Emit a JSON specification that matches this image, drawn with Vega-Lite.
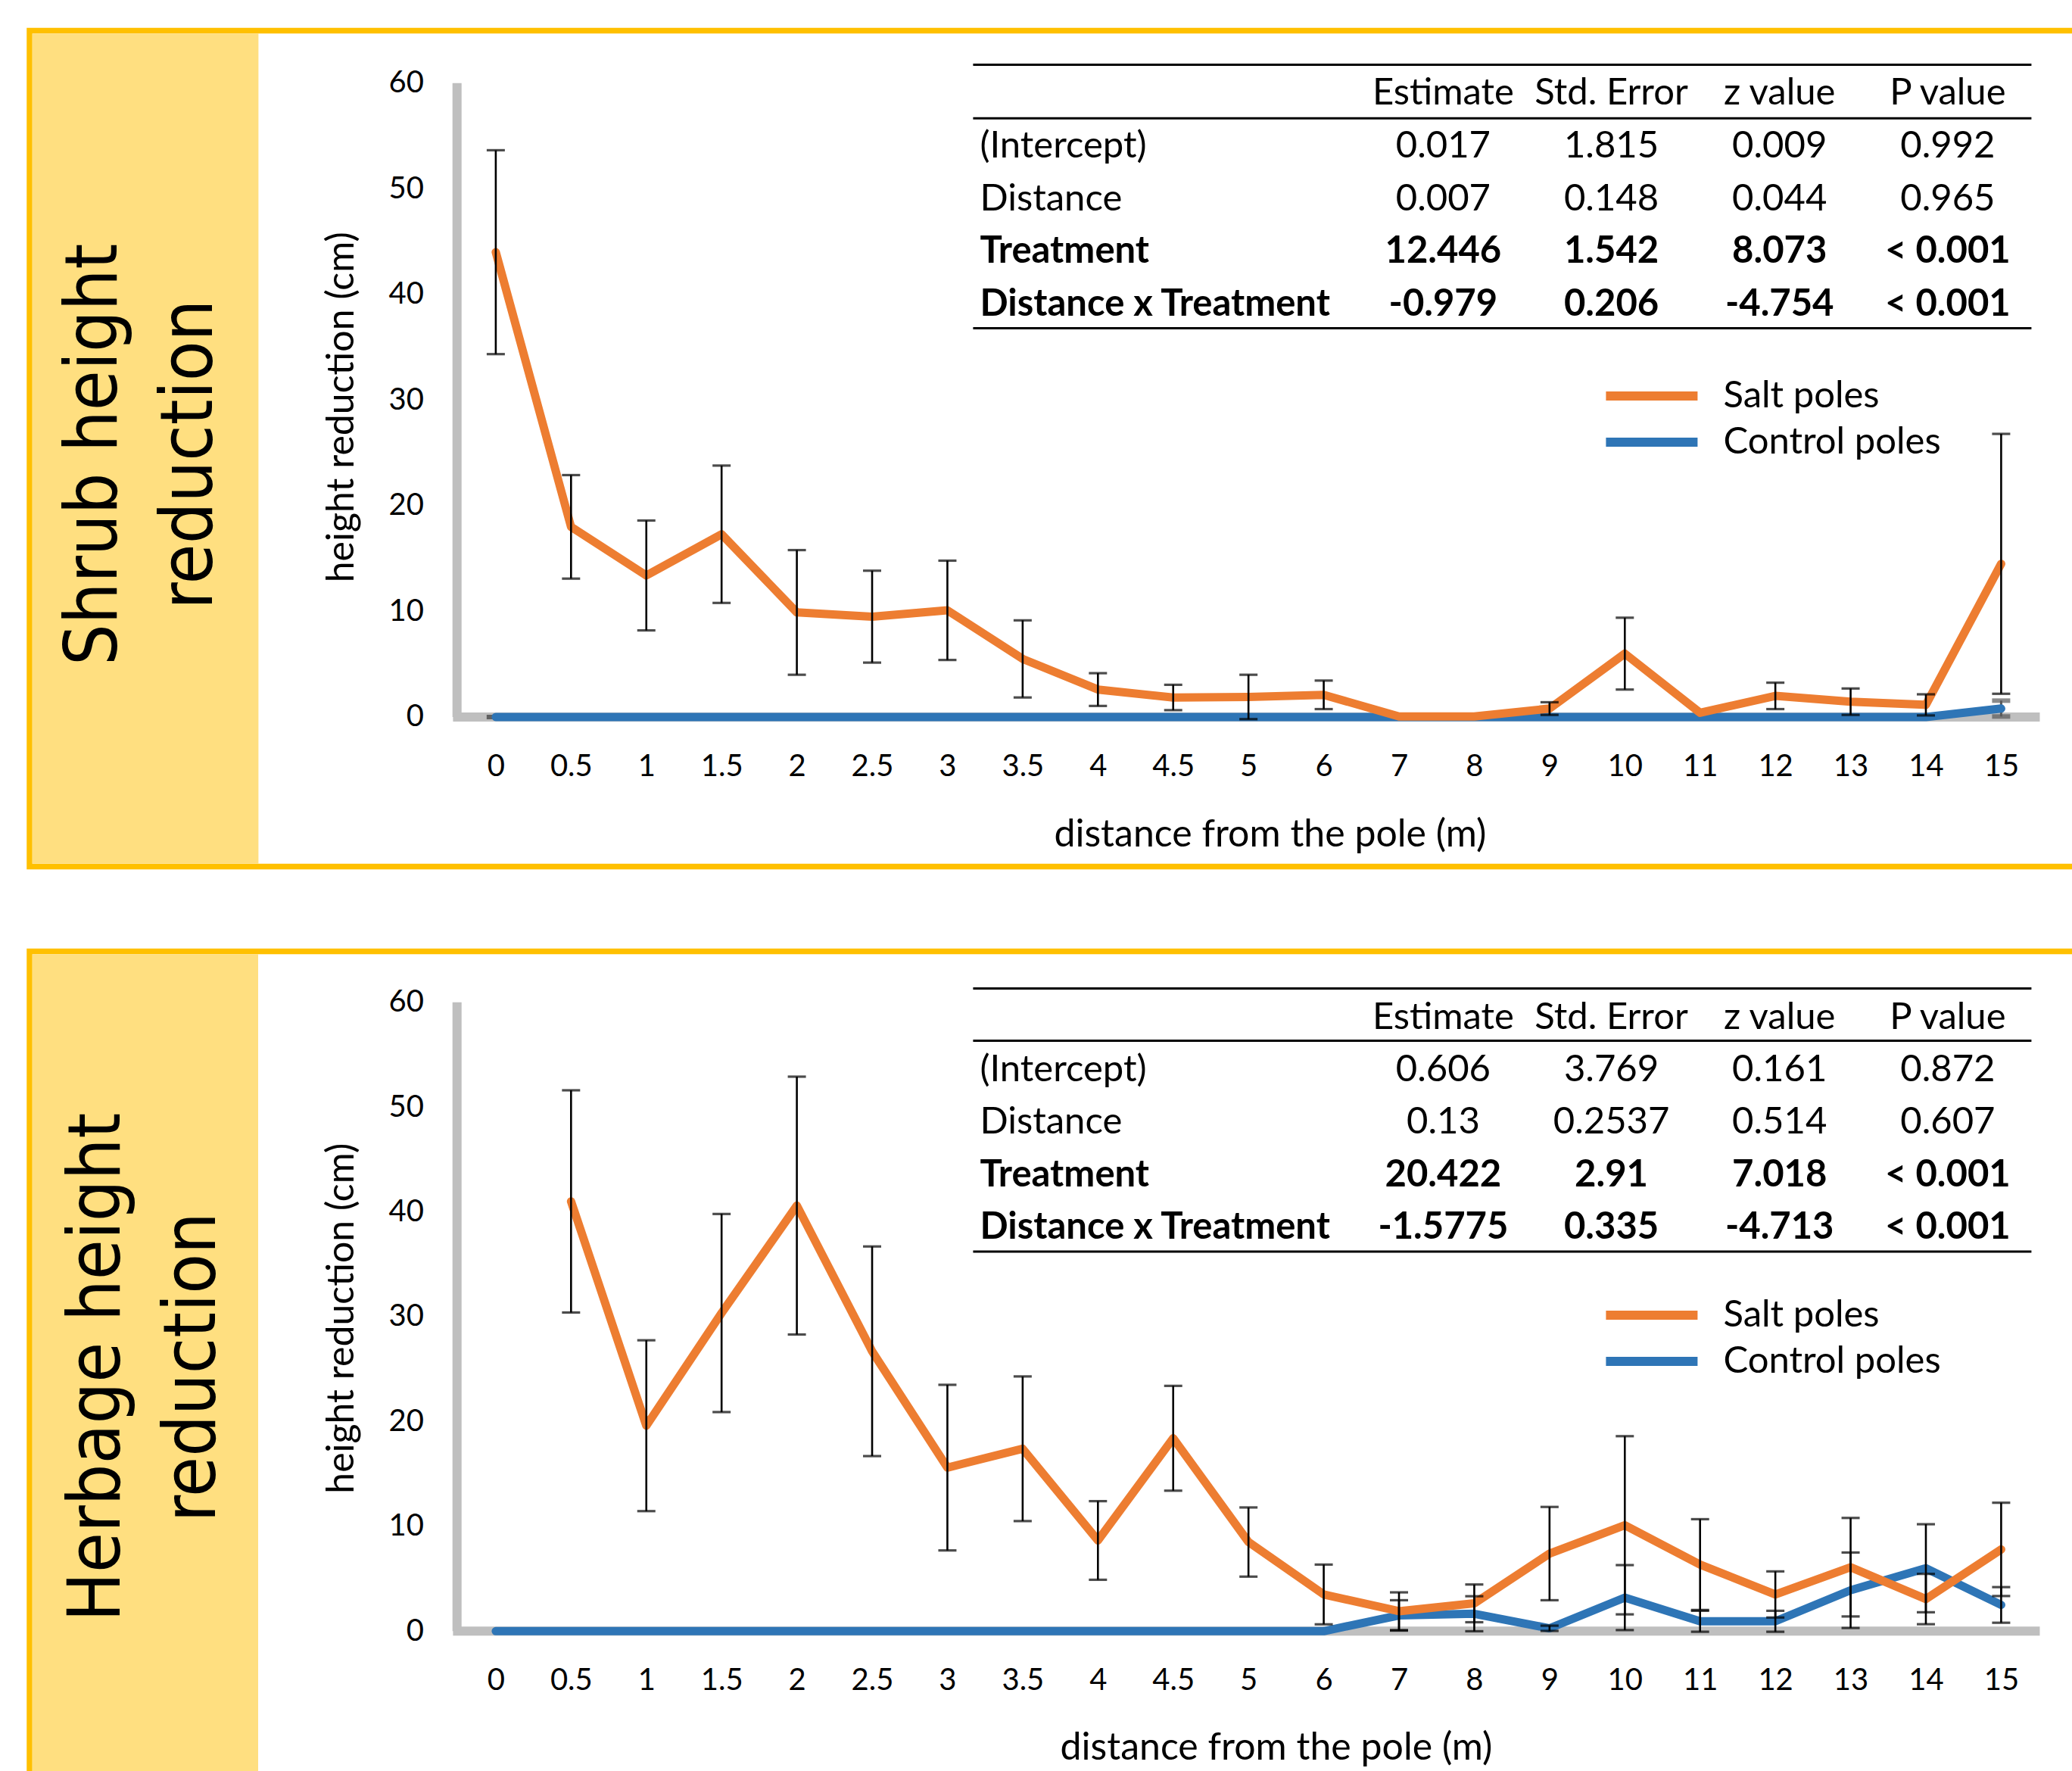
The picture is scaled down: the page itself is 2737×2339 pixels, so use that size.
{
  "$schema": "https://vega.github.io/schema/vega-lite/v6.json",
  "background": "white",
  "padding": {"left": 35, "top": 36.5, "right": 0, "bottom": 0},
  "config": {"view": {"stroke": "#FFC000", "strokeWidth": 7.5}},
  "spacing": 104,
  "resolve": {"scale": {"color": "independent", "x": "independent", "y": "independent"}, "legend": {"color": "independent"}},
  "datasets": {
    "shrub": [
      {"series": "Salt poles", "dist": 0, "mean": 44.0, "err": 9.65},
      {"series": "Salt poles", "dist": 0.5, "mean": 18.0, "err": 4.9},
      {"series": "Salt poles", "dist": 1, "mean": 13.4, "err": 5.2},
      {"series": "Salt poles", "dist": 1.5, "mean": 17.3, "err": 6.5},
      {"series": "Salt poles", "dist": 2, "mean": 9.9, "err": 5.9},
      {"series": "Salt poles", "dist": 2.5, "mean": 9.5, "err": 4.35},
      {"series": "Salt poles", "dist": 3, "mean": 10.1, "err": 4.7},
      {"series": "Salt poles", "dist": 3.5, "mean": 5.5, "err": 3.65},
      {"series": "Salt poles", "dist": 4, "mean": 2.6, "err": 1.55},
      {"series": "Salt poles", "dist": 4.5, "mean": 1.85, "err": 1.2},
      {"series": "Salt poles", "dist": 5, "mean": 1.9, "err": 2.1},
      {"series": "Salt poles", "dist": 6, "mean": 2.1, "err": 1.35},
      {"series": "Salt poles", "dist": 7, "mean": 0.05, "err": null},
      {"series": "Salt poles", "dist": 8, "mean": 0.05, "err": null},
      {"series": "Salt poles", "dist": 9, "mean": 0.8, "err": 0.6},
      {"series": "Salt poles", "dist": 10, "mean": 6.0, "err": 3.4},
      {"series": "Salt poles", "dist": 11, "mean": 0.4, "err": null},
      {"series": "Salt poles", "dist": 12, "mean": 2.0, "err": 1.25},
      {"series": "Salt poles", "dist": 13, "mean": 1.45, "err": 1.25},
      {"series": "Salt poles", "dist": 14, "mean": 1.15, "err": 1.0},
      {"series": "Salt poles", "dist": 15, "mean": 14.5, "err": 12.3},
      {"series": "Control poles", "dist": 0, "mean": 0, "err": 0},
      {"series": "Control poles", "dist": 0.5, "mean": 0, "err": 0},
      {"series": "Control poles", "dist": 1, "mean": 0, "err": 0},
      {"series": "Control poles", "dist": 1.5, "mean": 0, "err": 0},
      {"series": "Control poles", "dist": 2, "mean": 0, "err": 0},
      {"series": "Control poles", "dist": 2.5, "mean": 0, "err": 0},
      {"series": "Control poles", "dist": 3, "mean": 0, "err": 0},
      {"series": "Control poles", "dist": 3.5, "mean": 0, "err": 0},
      {"series": "Control poles", "dist": 4, "mean": 0, "err": 0},
      {"series": "Control poles", "dist": 4.5, "mean": 0, "err": 0},
      {"series": "Control poles", "dist": 5, "mean": 0, "err": 0},
      {"series": "Control poles", "dist": 6, "mean": 0, "err": 0},
      {"series": "Control poles", "dist": 7, "mean": 0, "err": 0},
      {"series": "Control poles", "dist": 8, "mean": 0, "err": 0},
      {"series": "Control poles", "dist": 9, "mean": 0, "err": 0},
      {"series": "Control poles", "dist": 10, "mean": 0, "err": 0},
      {"series": "Control poles", "dist": 11, "mean": 0, "err": 0},
      {"series": "Control poles", "dist": 12, "mean": 0, "err": 0},
      {"series": "Control poles", "dist": 13, "mean": 0, "err": 0},
      {"series": "Control poles", "dist": 14, "mean": 0, "err": 0},
      {"series": "Control poles", "dist": 15, "mean": 0.8, "err": 0.75}
    ],
    "herbage": [
      {"series": "Salt poles", "dist": 0.5, "mean": 41.0, "err": 10.6},
      {"series": "Salt poles", "dist": 1, "mean": 19.6, "err": 8.15},
      {"series": "Salt poles", "dist": 1.5, "mean": 30.35, "err": 9.45},
      {"series": "Salt poles", "dist": 2, "mean": 40.6, "err": 12.3},
      {"series": "Salt poles", "dist": 2.5, "mean": 26.7, "err": 10.0},
      {"series": "Salt poles", "dist": 3, "mean": 15.6, "err": 7.9},
      {"series": "Salt poles", "dist": 3.5, "mean": 17.4, "err": 6.9},
      {"series": "Salt poles", "dist": 4, "mean": 8.65, "err": 3.75},
      {"series": "Salt poles", "dist": 4.5, "mean": 18.4, "err": 5.0},
      {"series": "Salt poles", "dist": 5, "mean": 8.5, "err": 3.3},
      {"series": "Salt poles", "dist": 6, "mean": 3.5, "err": 2.85},
      {"series": "Salt poles", "dist": 7, "mean": 1.9, "err": 1.8},
      {"series": "Salt poles", "dist": 8, "mean": 2.65, "err": 1.8},
      {"series": "Salt poles", "dist": 9, "mean": 7.4, "err": 4.45},
      {"series": "Salt poles", "dist": 10, "mean": 10.1, "err": 8.5},
      {"series": "Salt poles", "dist": 11, "mean": 6.35, "err": 4.33},
      {"series": "Salt poles", "dist": 12, "mean": 3.5, "err": 2.2},
      {"series": "Salt poles", "dist": 13, "mean": 6.1, "err": 4.7},
      {"series": "Salt poles", "dist": 14, "mean": 3.06, "err": 2.4},
      {"series": "Salt poles", "dist": 15, "mean": 7.8, "err": 4.45},
      {"series": "Control poles", "dist": 0, "mean": 0, "err": null},
      {"series": "Control poles", "dist": 0.5, "mean": 0, "err": null},
      {"series": "Control poles", "dist": 1, "mean": 0, "err": null},
      {"series": "Control poles", "dist": 1.5, "mean": 0, "err": null},
      {"series": "Control poles", "dist": 2, "mean": 0, "err": null},
      {"series": "Control poles", "dist": 2.5, "mean": 0, "err": null},
      {"series": "Control poles", "dist": 3, "mean": 0, "err": null},
      {"series": "Control poles", "dist": 3.5, "mean": 0, "err": null},
      {"series": "Control poles", "dist": 4, "mean": 0, "err": null},
      {"series": "Control poles", "dist": 4.5, "mean": 0, "err": null},
      {"series": "Control poles", "dist": 5, "mean": 0, "err": null},
      {"series": "Control poles", "dist": 6, "mean": 0, "err": null},
      {"series": "Control poles", "dist": 7, "mean": 1.5, "err": 1.45},
      {"series": "Control poles", "dist": 8, "mean": 1.66, "err": 1.67},
      {"series": "Control poles", "dist": 9, "mean": 0.27, "err": 0.25},
      {"series": "Control poles", "dist": 10, "mean": 3.2, "err": 3.1},
      {"series": "Control poles", "dist": 11, "mean": 0.94, "err": 1.0},
      {"series": "Control poles", "dist": 12, "mean": 0.94, "err": 1.0},
      {"series": "Control poles", "dist": 13, "mean": 3.9, "err": 3.6},
      {"series": "Control poles", "dist": 14, "mean": 6.0, "err": 4.2},
      {"series": "Control poles", "dist": 15, "mean": 2.5, "err": 1.7}
    ],
    "shrubTable": [
      {"row": "header", "col": "Estimate", "text": "Estimate"},
      {"row": "header", "col": "Std. Error", "text": "Std. Error"},
      {"row": "header", "col": "z value", "text": "z value"},
      {"row": "header", "col": "P value", "text": "P value"},
      {"row": "(Intercept)", "col": "label", "text": "(Intercept)"},
      {"row": "(Intercept)", "col": "Estimate", "text": "0.017"},
      {"row": "(Intercept)", "col": "Std. Error", "text": "1.815"},
      {"row": "(Intercept)", "col": "z value", "text": "0.009"},
      {"row": "(Intercept)", "col": "P value", "text": "0.992"},
      {"row": "Distance", "col": "label", "text": "Distance"},
      {"row": "Distance", "col": "Estimate", "text": "0.007"},
      {"row": "Distance", "col": "Std. Error", "text": "0.148"},
      {"row": "Distance", "col": "z value", "text": "0.044"},
      {"row": "Distance", "col": "P value", "text": "0.965"},
      {"row": "Treatment", "col": "label", "text": "Treatment"},
      {"row": "Treatment", "col": "Estimate", "text": "12.446"},
      {"row": "Treatment", "col": "Std. Error", "text": "1.542"},
      {"row": "Treatment", "col": "z value", "text": "8.073"},
      {"row": "Treatment", "col": "P value", "text": "< 0.001"},
      {"row": "Distance x Treatment", "col": "label", "text": "Distance x Treatment"},
      {"row": "Distance x Treatment", "col": "Estimate", "text": "-0.979"},
      {"row": "Distance x Treatment", "col": "Std. Error", "text": "0.206"},
      {"row": "Distance x Treatment", "col": "z value", "text": "-4.754"},
      {"row": "Distance x Treatment", "col": "P value", "text": "< 0.001"}
    ],
    "herbTable": [
      {"row": "header", "col": "Estimate", "text": "Estimate"},
      {"row": "header", "col": "Std. Error", "text": "Std. Error"},
      {"row": "header", "col": "z value", "text": "z value"},
      {"row": "header", "col": "P value", "text": "P value"},
      {"row": "(Intercept)", "col": "label", "text": "(Intercept)"},
      {"row": "(Intercept)", "col": "Estimate", "text": "0.606"},
      {"row": "(Intercept)", "col": "Std. Error", "text": "3.769"},
      {"row": "(Intercept)", "col": "z value", "text": "0.161"},
      {"row": "(Intercept)", "col": "P value", "text": "0.872"},
      {"row": "Distance", "col": "label", "text": "Distance"},
      {"row": "Distance", "col": "Estimate", "text": "0.13"},
      {"row": "Distance", "col": "Std. Error", "text": "0.2537"},
      {"row": "Distance", "col": "z value", "text": "0.514"},
      {"row": "Distance", "col": "P value", "text": "0.607"},
      {"row": "Treatment", "col": "label", "text": "Treatment"},
      {"row": "Treatment", "col": "Estimate", "text": "20.422"},
      {"row": "Treatment", "col": "Std. Error", "text": "2.91"},
      {"row": "Treatment", "col": "z value", "text": "7.018"},
      {"row": "Treatment", "col": "P value", "text": "< 0.001"},
      {"row": "Distance x Treatment", "col": "label", "text": "Distance x Treatment"},
      {"row": "Distance x Treatment", "col": "Estimate", "text": "-1.5775"},
      {"row": "Distance x Treatment", "col": "Std. Error", "text": "0.335"},
      {"row": "Distance x Treatment", "col": "z value", "text": "-4.713"},
      {"row": "Distance x Treatment", "col": "P value", "text": "< 0.001"}
    ]
  },
  "vconcat": [
    {
      "width": 2710,
      "height": 1104,
      "resolve": {"scale": {"x": "independent", "y": "independent"}, "axis": {"x": "independent", "y": "independent"}},
      "layer": [
        {
          "data": {"values": [{}]},
          "layer": [
            {"mark": {"type": "rect", "fill": "#FFDF80"},
             "encoding": {
               "x": {"datum": -6.157, "type": "quantitative", "scale": {"domain": [-6.1943, 21.0606], "nice": false, "zero": false}, "axis": null},
               "x2": {"datum": -3.153},
               "y": {"datum": -13.887, "type": "quantitative", "scale": {"domain": [-14.156, 64.967], "nice": false, "zero": false}, "axis": null},
               "y2": {"datum": 64.698}}},
            {"mark": {"type": "text", "text": ["Shrub height", "reduction"], "angle": 270, "align": "center", "baseline": "alphabetic", "font": "DejaVu Sans Condensed, DejaVu Sans", "fontSize": 96, "lineHeight": 126, "color": "#000000"},
             "encoding": {
               "x": {"datum": -5.034, "type": "quantitative", "scale": {"domain": [-6.1943, 21.0606], "nice": false, "zero": false}, "axis": null},
               "y": {"datum": 24.847, "type": "quantitative", "scale": {"domain": [-14.156, 64.967], "nice": false, "zero": false}, "axis": null}}},
            {"mark": {"type": "rule", "color": "#BFBFBF", "strokeWidth": 12},
             "encoding": {
               "x": {"datum": -0.5149, "type": "quantitative", "scale": {"domain": [-6.1943, 21.0606], "nice": false, "zero": false}, "axis": null},
               "y": {"datum": 0, "type": "quantitative", "scale": {"domain": [-14.156, 64.967], "nice": false, "zero": false}, "axis": null},
               "y2": {"datum": 60}}},
            {"mark": {"type": "rule", "color": "#BFBFBF", "strokeWidth": 12},
             "encoding": {
               "x": {"datum": -0.5682, "type": "quantitative", "scale": {"domain": [-6.1943, 21.0606], "nice": false, "zero": false}, "axis": null},
               "x2": {"datum": 20.512},
               "y": {"datum": 0, "type": "quantitative", "scale": {"domain": [-14.156, 64.967], "nice": false, "zero": false}, "axis": null}}},
            {"mark": {"type": "rule", "color": "#000000", "strokeWidth": 3},
             "encoding": {
               "x": {"datum": 6.341, "type": "quantitative", "scale": {"domain": [-6.1943, 21.0606], "nice": false, "zero": false}, "axis": null},
               "x2": {"datum": 20.401},
               "y": {"datum": 61.735, "type": "quantitative", "scale": {"domain": [-14.156, 64.967], "nice": false, "zero": false}, "axis": null}}},
            {"mark": {"type": "rule", "color": "#000000", "strokeWidth": 3},
             "encoding": {
               "x": {"datum": 6.341, "type": "quantitative", "scale": {"domain": [-6.1943, 21.0606], "nice": false, "zero": false}, "axis": null},
               "x2": {"datum": 20.401},
               "y": {"datum": 56.675, "type": "quantitative", "scale": {"domain": [-14.156, 64.967], "nice": false, "zero": false}, "axis": null}}},
            {"mark": {"type": "rule", "color": "#000000", "strokeWidth": 3},
             "encoding": {
               "x": {"datum": 6.341, "type": "quantitative", "scale": {"domain": [-6.1943, 21.0606], "nice": false, "zero": false}, "axis": null},
               "x2": {"datum": 20.401},
               "y": {"datum": 36.808, "type": "quantitative", "scale": {"domain": [-14.156, 64.967], "nice": false, "zero": false}, "axis": null}}}
          ]
        },
        {
          "data": {"name": "shrubTable"},
          "transform": [{"filter": "datum.col != 'label' && datum.row != 'Treatment' && datum.row != 'Distance x Treatment'"}],
          "mark": {"type": "text", "font": "Lato", "fontSize": 49, "align": "center", "baseline": "middle", "color": "#000000"},
          "encoding": {
            "x": {"field": "col", "type": "nominal", "scale": {"type": "point", "domain": ["Estimate", "Std. Error", "z value", "P value"], "range": [1867.4, 2533.9], "padding": 0}, "axis": null},
            "y": {"field": "row", "type": "nominal", "scale": {"type": "point", "domain": ["header", "(Intercept)", "Distance", "Treatment", "Distance x Treatment"], "range": [82.8, 361.4], "padding": 0}, "axis": null},
            "text": {"field": "text"}
          }
        },
        {
          "data": {"name": "shrubTable"},
          "transform": [{"filter": "datum.col != 'label' && (datum.row == 'Treatment' || datum.row == 'Distance x Treatment')"}],
          "mark": {"type": "text", "font": "Lato", "fontSize": 49, "fontWeight": "bold", "align": "center", "baseline": "middle", "color": "#000000"},
          "encoding": {
            "x": {"field": "col", "type": "nominal", "scale": {"type": "point", "domain": ["Estimate", "Std. Error", "z value", "P value"], "range": [1867.4, 2533.9], "padding": 0}, "axis": null},
            "y": {"field": "row", "type": "nominal", "scale": {"type": "point", "domain": ["header", "(Intercept)", "Distance", "Treatment", "Distance x Treatment"], "range": [82.8, 361.4], "padding": 0}, "axis": null},
            "text": {"field": "text"}
          }
        },
        {
          "data": {"name": "shrubTable"},
          "transform": [{"filter": "datum.col == 'label' && datum.row != 'Treatment' && datum.row != 'Distance x Treatment'"}],
          "mark": {"type": "text", "font": "Lato", "fontSize": 49, "align": "left", "baseline": "middle", "color": "#000000"},
          "encoding": {
            "x": {"datum": 6.4316, "type": "quantitative", "scale": {"domain": [-6.1943, 21.0606], "nice": false, "zero": false}, "axis": null},
            "y": {"field": "row", "type": "nominal", "scale": {"type": "point", "domain": ["header", "(Intercept)", "Distance", "Treatment", "Distance x Treatment"], "range": [82.8, 361.4], "padding": 0}, "axis": null},
            "text": {"field": "text"}
          }
        },
        {
          "data": {"name": "shrubTable"},
          "transform": [{"filter": "datum.col == 'label' && (datum.row == 'Treatment' || datum.row == 'Distance x Treatment')"}],
          "mark": {"type": "text", "font": "Lato", "fontSize": 49, "fontWeight": "bold", "align": "left", "baseline": "middle", "color": "#000000"},
          "encoding": {
            "x": {"datum": 6.4316, "type": "quantitative", "scale": {"domain": [-6.1943, 21.0606], "nice": false, "zero": false}, "axis": null},
            "y": {"field": "row", "type": "nominal", "scale": {"type": "point", "domain": ["header", "(Intercept)", "Distance", "Treatment", "Distance x Treatment"], "range": [82.8, 361.4], "padding": 0}, "axis": null},
            "text": {"field": "text"}
          }
        },
        {
          "data": {"name": "shrub"},
          "layer": [
            {
              "transform": [{"filter": "datum.series == 'Control poles' && isValid(datum.err)"}],
              "mark": {"type": "errorbar", "color": "#595959", "ticks": {"size": 24, "thickness": 6}, "rule": {"strokeWidth": 3}},
              "encoding": {
                "x": {"field": "dist", "type": "ordinal", "title": "distance from the pole (m)", "scale": {"type": "point", "domain": [0, 0.5, 1, 1.5, 2, 2.5, 3, 3.5, 4, 4.5, 5, 6, 7, 8, 9, 10, 11, 12, 13, 14, 15], "range": [615.9, 2604.4], "padding": 0},
                  "axis": {"orient": "bottom", "domain": false, "ticks": false, "grid": false, "labelFont": "Lato", "labelFontSize": 40, "labelColor": "#000000", "labelPadding": 45.5, "labelBaseline": "top", "labelAngle": 0, "labelOverlap": false, "offset": -197.5, "title": "distance from the pole (m)", "titleFont": "Lato", "titleFontSize": 50, "titleFontWeight": "normal", "titleColor": "#000000", "titleX": 1638.4, "titleY": 155.3, "titleAlign": "center", "titleBaseline": "middle"}},
                "y": {"field": "mean", "type": "quantitative", "title": "height reduction (cm)", "scale": {"domain": [-14.156, 64.967], "nice": false, "zero": false},
                  "axis": {"orient": "left", "values": [0, 10, 20, 30, 40, 50, 60], "domain": false, "ticks": false, "grid": false, "labelFont": "Lato", "labelFontSize": 40, "labelColor": "#000000", "labelPadding": 44.3, "labelOverlap": false, "offset": -564.7, "title": "height reduction (cm)", "titleFont": "Lato", "titleFontSize": 50, "titleFontWeight": "normal", "titleColor": "#000000", "titleAngle": 270, "titleX": -152.3, "titleY": 496.8, "titleAlign": "center", "titleBaseline": "middle"}},
                "yError": {"field": "err"}
              }
            },
            {
              "transform": [{"filter": "datum.series == 'Control poles'"}],
              "mark": {"type": "line", "strokeWidth": 11, "strokeCap": "round", "strokeJoin": "round"},
              "encoding": {
                "x": {"field": "dist", "type": "ordinal", "title": "distance from the pole (m)", "scale": {"type": "point", "domain": [0, 0.5, 1, 1.5, 2, 2.5, 3, 3.5, 4, 4.5, 5, 6, 7, 8, 9, 10, 11, 12, 13, 14, 15], "range": [615.9, 2604.4], "padding": 0},
                  "axis": {"orient": "bottom", "domain": false, "ticks": false, "grid": false, "labelFont": "Lato", "labelFontSize": 40, "labelColor": "#000000", "labelPadding": 45.5, "labelBaseline": "top", "labelAngle": 0, "labelOverlap": false, "offset": -197.5, "title": "distance from the pole (m)", "titleFont": "Lato", "titleFontSize": 50, "titleFontWeight": "normal", "titleColor": "#000000", "titleX": 1638.4, "titleY": 155.3, "titleAlign": "center", "titleBaseline": "middle"}},
                "y": {"field": "mean", "type": "quantitative", "title": "height reduction (cm)", "scale": {"domain": [-14.156, 64.967], "nice": false, "zero": false},
                  "axis": {"orient": "left", "values": [0, 10, 20, 30, 40, 50, 60], "domain": false, "ticks": false, "grid": false, "labelFont": "Lato", "labelFontSize": 40, "labelColor": "#000000", "labelPadding": 44.3, "labelOverlap": false, "offset": -564.7, "title": "height reduction (cm)", "titleFont": "Lato", "titleFontSize": 50, "titleFontWeight": "normal", "titleColor": "#000000", "titleAngle": 270, "titleX": -152.3, "titleY": 496.8, "titleAlign": "center", "titleBaseline": "middle"}},
                "color": {"field": "series", "type": "nominal", "scale": {"domain": ["Salt poles", "Control poles"], "range": ["#ED7D31", "#2E75B6"]},
                  "legend": {"orient": "none", "legendX": 2076.4, "legendY": 452.2, "title": null, "symbolType": "stroke", "symbolSize": 14641, "symbolStrokeWidth": 12, "labelFont": "Lato", "labelFontSize": 49, "labelColor": "#000000", "labelOffset": 28, "labelLimit": 0, "clipHeight": 60.6, "rowPadding": 0, "padding": 0}}
              }
            },
            {
              "transform": [{"filter": "datum.series == 'Salt poles'"}],
              "mark": {"type": "line", "strokeWidth": 11, "strokeCap": "round", "strokeJoin": "round"},
              "encoding": {
                "x": {"field": "dist", "type": "ordinal", "title": "distance from the pole (m)", "scale": {"type": "point", "domain": [0, 0.5, 1, 1.5, 2, 2.5, 3, 3.5, 4, 4.5, 5, 6, 7, 8, 9, 10, 11, 12, 13, 14, 15], "range": [615.9, 2604.4], "padding": 0}},
                "y": {"field": "mean", "type": "quantitative", "title": "height reduction (cm)", "scale": {"domain": [-14.156, 64.967], "nice": false, "zero": false}},
                "color": {"field": "series", "type": "nominal", "scale": {"domain": ["Salt poles", "Control poles"], "range": ["#ED7D31", "#2E75B6"]}}
              }
            },
            {
              "transform": [{"filter": "datum.series == 'Salt poles' && isValid(datum.err)"}],
              "mark": {"type": "errorbar", "color": "#000000", "ticks": {"size": 24, "thickness": 3.2}, "rule": {"strokeWidth": 2.6}},
              "encoding": {
                "x": {"field": "dist", "type": "ordinal", "title": "distance from the pole (m)", "scale": {"type": "point", "domain": [0, 0.5, 1, 1.5, 2, 2.5, 3, 3.5, 4, 4.5, 5, 6, 7, 8, 9, 10, 11, 12, 13, 14, 15], "range": [615.9, 2604.4], "padding": 0}},
                "y": {"field": "mean", "type": "quantitative", "title": "height reduction (cm)", "scale": {"domain": [-14.156, 64.967], "nice": false, "zero": false}},
                "yError": {"field": "err"}
              }
            }
          ]
        }
      ]
    },
    {
      "width": 2710,
      "height": 1100,
      "resolve": {"scale": {"x": "independent", "y": "independent"}, "axis": {"x": "independent", "y": "independent"}},
      "layer": [
        {
          "data": {"values": [{}]},
          "layer": [
            {"mark": {"type": "rect", "fill": "#FFDF80"},
             "encoding": {
               "x": {"datum": -6.157, "type": "quantitative", "scale": {"domain": [-6.1943, 21.0606], "nice": false, "zero": false}, "axis": null},
               "x2": {"datum": -3.157},
               "y": {"datum": -14.609, "type": "quantitative", "scale": {"domain": [-14.609, 64.854], "nice": false, "zero": false}, "axis": null},
               "y2": {"datum": 64.583}}},
            {"mark": {"type": "text", "text": ["Herbage height", "reduction"], "angle": 270, "align": "center", "baseline": "alphabetic", "font": "DejaVu Sans Condensed, DejaVu Sans", "fontSize": 96, "lineHeight": 126, "color": "#000000"},
             "encoding": {
               "x": {"datum": -4.9934, "type": "quantitative", "scale": {"domain": [-6.1943, 21.0606], "nice": false, "zero": false}, "axis": null},
               "y": {"datum": 25.173, "type": "quantitative", "scale": {"domain": [-14.609, 64.854], "nice": false, "zero": false}, "axis": null}}},
            {"mark": {"type": "rule", "color": "#BFBFBF", "strokeWidth": 12},
             "encoding": {
               "x": {"datum": -0.5149, "type": "quantitative", "scale": {"domain": [-6.1943, 21.0606], "nice": false, "zero": false}, "axis": null},
               "y": {"datum": 0, "type": "quantitative", "scale": {"domain": [-14.609, 64.854], "nice": false, "zero": false}, "axis": null},
               "y2": {"datum": 60}}},
            {"mark": {"type": "rule", "color": "#BFBFBF", "strokeWidth": 12},
             "encoding": {
               "x": {"datum": -0.5682, "type": "quantitative", "scale": {"domain": [-6.1943, 21.0606], "nice": false, "zero": false}, "axis": null},
               "x2": {"datum": 20.512},
               "y": {"datum": 0, "type": "quantitative", "scale": {"domain": [-14.609, 64.854], "nice": false, "zero": false}, "axis": null}}},
            {"mark": {"type": "rule", "color": "#000000", "strokeWidth": 3},
             "encoding": {
               "x": {"datum": 6.341, "type": "quantitative", "scale": {"domain": [-6.1943, 21.0606], "nice": false, "zero": false}, "axis": null},
               "x2": {"datum": 20.401},
               "y": {"datum": 61.307, "type": "quantitative", "scale": {"domain": [-14.609, 64.854], "nice": false, "zero": false}, "axis": null}}},
            {"mark": {"type": "rule", "color": "#000000", "strokeWidth": 3},
             "encoding": {
               "x": {"datum": 6.341, "type": "quantitative", "scale": {"domain": [-6.1943, 21.0606], "nice": false, "zero": false}, "axis": null},
               "x2": {"datum": 20.401},
               "y": {"datum": 56.33, "type": "quantitative", "scale": {"domain": [-14.609, 64.854], "nice": false, "zero": false}, "axis": null}}},
            {"mark": {"type": "rule", "color": "#000000", "strokeWidth": 3},
             "encoding": {
               "x": {"datum": 6.341, "type": "quantitative", "scale": {"domain": [-6.1943, 21.0606], "nice": false, "zero": false}, "axis": null},
               "x2": {"datum": 20.401},
               "y": {"datum": 36.219, "type": "quantitative", "scale": {"domain": [-14.609, 64.854], "nice": false, "zero": false}, "axis": null}}}
          ]
        },
        {
          "data": {"name": "herbTable"},
          "transform": [{"filter": "datum.col != 'label' && datum.row != 'Treatment' && datum.row != 'Distance x Treatment'"}],
          "mark": {"type": "text", "font": "Lato", "fontSize": 49, "align": "center", "baseline": "middle", "color": "#000000"},
          "encoding": {
            "x": {"field": "col", "type": "nominal", "scale": {"type": "point", "domain": ["Estimate", "Std. Error", "z value", "P value"], "range": [1867.4, 2533.9], "padding": 0}, "axis": null},
            "y": {"field": "row", "type": "nominal", "scale": {"type": "point", "domain": ["header", "(Intercept)", "Distance", "Treatment", "Distance x Treatment"], "range": [87.5, 364.2], "padding": 0}, "axis": null},
            "text": {"field": "text"}
          }
        },
        {
          "data": {"name": "herbTable"},
          "transform": [{"filter": "datum.col != 'label' && (datum.row == 'Treatment' || datum.row == 'Distance x Treatment')"}],
          "mark": {"type": "text", "font": "Lato", "fontSize": 49, "fontWeight": "bold", "align": "center", "baseline": "middle", "color": "#000000"},
          "encoding": {
            "x": {"field": "col", "type": "nominal", "scale": {"type": "point", "domain": ["Estimate", "Std. Error", "z value", "P value"], "range": [1867.4, 2533.9], "padding": 0}, "axis": null},
            "y": {"field": "row", "type": "nominal", "scale": {"type": "point", "domain": ["header", "(Intercept)", "Distance", "Treatment", "Distance x Treatment"], "range": [87.5, 364.2], "padding": 0}, "axis": null},
            "text": {"field": "text"}
          }
        },
        {
          "data": {"name": "herbTable"},
          "transform": [{"filter": "datum.col == 'label' && datum.row != 'Treatment' && datum.row != 'Distance x Treatment'"}],
          "mark": {"type": "text", "font": "Lato", "fontSize": 49, "align": "left", "baseline": "middle", "color": "#000000"},
          "encoding": {
            "x": {"datum": 6.4316, "type": "quantitative", "scale": {"domain": [-6.1943, 21.0606], "nice": false, "zero": false}, "axis": null},
            "y": {"field": "row", "type": "nominal", "scale": {"type": "point", "domain": ["header", "(Intercept)", "Distance", "Treatment", "Distance x Treatment"], "range": [87.5, 364.2], "padding": 0}, "axis": null},
            "text": {"field": "text"}
          }
        },
        {
          "data": {"name": "herbTable"},
          "transform": [{"filter": "datum.col == 'label' && (datum.row == 'Treatment' || datum.row == 'Distance x Treatment')"}],
          "mark": {"type": "text", "font": "Lato", "fontSize": 49, "fontWeight": "bold", "align": "left", "baseline": "middle", "color": "#000000"},
          "encoding": {
            "x": {"datum": 6.4316, "type": "quantitative", "scale": {"domain": [-6.1943, 21.0606], "nice": false, "zero": false}, "axis": null},
            "y": {"field": "row", "type": "nominal", "scale": {"type": "point", "domain": ["header", "(Intercept)", "Distance", "Treatment", "Distance x Treatment"], "range": [87.5, 364.2], "padding": 0}, "axis": null},
            "text": {"field": "text"}
          }
        },
        {
          "data": {"name": "herbage"},
          "layer": [
            {
              "transform": [{"filter": "datum.series == 'Control poles'"}],
              "mark": {"type": "line", "strokeWidth": 11, "strokeCap": "round", "strokeJoin": "round"},
              "encoding": {
                "x": {"field": "dist", "type": "ordinal", "title": "distance from the pole (m)", "scale": {"type": "point", "domain": [0, 0.5, 1, 1.5, 2, 2.5, 3, 3.5, 4, 4.5, 5, 6, 7, 8, 9, 10, 11, 12, 13, 14, 15], "range": [615.9, 2604.4], "padding": 0},
                  "axis": {"orient": "bottom", "domain": false, "ticks": false, "grid": false, "labelFont": "Lato", "labelFontSize": 40, "labelColor": "#000000", "labelPadding": 45.5, "labelBaseline": "top", "labelAngle": 0, "labelOverlap": false, "offset": -202.2, "title": "distance from the pole (m)", "titleFont": "Lato", "titleFontSize": 50, "titleFontWeight": "normal", "titleColor": "#000000", "titleX": 1646.5, "titleY": 154.5, "titleAlign": "center", "titleBaseline": "middle"}},
                "y": {"field": "mean", "type": "quantitative", "title": "height reduction (cm)", "scale": {"domain": [-14.609, 64.854], "nice": false, "zero": false},
                  "axis": {"orient": "left", "values": [0, 10, 20, 30, 40, 50, 60], "domain": false, "ticks": false, "grid": false, "labelFont": "Lato", "labelFontSize": 40, "labelColor": "#000000", "labelPadding": 44.3, "labelOverlap": false, "offset": -564.7, "title": "height reduction (cm)", "titleFont": "Lato", "titleFontSize": 50, "titleFontWeight": "normal", "titleColor": "#000000", "titleAngle": 270, "titleX": -152.3, "titleY": 484.2, "titleAlign": "center", "titleBaseline": "middle"}},
                "color": {"field": "series", "type": "nominal", "scale": {"domain": ["Salt poles", "Control poles"], "range": ["#ED7D31", "#2E75B6"]},
                  "legend": {"orient": "none", "legendX": 2076.4, "legendY": 450.3, "title": null, "symbolType": "stroke", "symbolSize": 14641, "symbolStrokeWidth": 12, "labelFont": "Lato", "labelFontSize": 49, "labelColor": "#000000", "labelOffset": 28, "labelLimit": 0, "clipHeight": 60.6, "rowPadding": 0, "padding": 0}}
              }
            },
            {
              "transform": [{"filter": "datum.series == 'Salt poles'"}],
              "mark": {"type": "line", "strokeWidth": 11, "strokeCap": "round", "strokeJoin": "round"},
              "encoding": {
                "x": {"field": "dist", "type": "ordinal", "title": "distance from the pole (m)", "scale": {"type": "point", "domain": [0, 0.5, 1, 1.5, 2, 2.5, 3, 3.5, 4, 4.5, 5, 6, 7, 8, 9, 10, 11, 12, 13, 14, 15], "range": [615.9, 2604.4], "padding": 0}},
                "y": {"field": "mean", "type": "quantitative", "title": "height reduction (cm)", "scale": {"domain": [-14.609, 64.854], "nice": false, "zero": false}},
                "color": {"field": "series", "type": "nominal", "scale": {"domain": ["Salt poles", "Control poles"], "range": ["#ED7D31", "#2E75B6"]}}
              }
            },
            {
              "transform": [{"filter": "isValid(datum.err)"}],
              "mark": {"type": "errorbar", "color": "#000000", "ticks": {"size": 24, "thickness": 3.2}, "rule": {"strokeWidth": 2.6}},
              "encoding": {
                "x": {"field": "dist", "type": "ordinal", "title": "distance from the pole (m)", "scale": {"type": "point", "domain": [0, 0.5, 1, 1.5, 2, 2.5, 3, 3.5, 4, 4.5, 5, 6, 7, 8, 9, 10, 11, 12, 13, 14, 15], "range": [615.9, 2604.4], "padding": 0}},
                "y": {"field": "mean", "type": "quantitative", "title": "height reduction (cm)", "scale": {"domain": [-14.609, 64.854], "nice": false, "zero": false}},
                "yError": {"field": "err"}
              }
            }
          ]
        }
      ]
    }
  ]
}
